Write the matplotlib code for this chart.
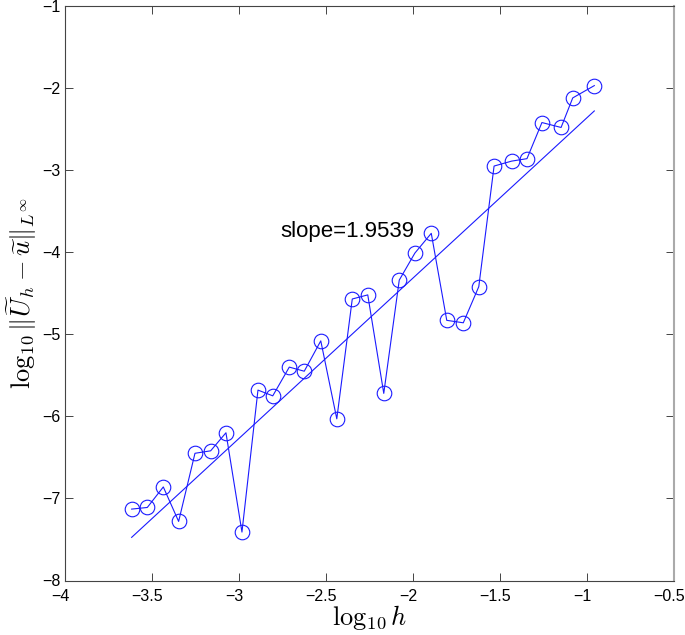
import matplotlib
matplotlib.use('Agg')
import matplotlib.pyplot as plt
import numpy as np
from matplotlib.ticker import FuncFormatter
from matplotlib.transforms import ScaledTranslation

# log10 h and log10 error
log_h = [-3.617, -3.527, -3.435, -3.347, -3.253, -3.163, -3.075, -2.983, -2.891, -2.806,
         -2.711, -2.625, -2.530, -2.438, -2.349, -2.260, -2.168, -2.079, -1.989, -1.895,
         -1.806, -1.711, -1.622, -1.534, -1.433, -1.345, -1.259, -1.149, -1.082, -0.958]
log_err = [-7.13, -7.11, -6.86, -7.28, -6.45, -6.42, -6.20, -7.41, -5.68, -5.75,
           -5.40, -5.45, -5.08, -6.03, -4.57, -4.52, -5.72, -4.34, -4.01, -3.77,
           -4.83, -4.86, -4.42, -2.95, -2.89, -2.86, -2.42, -2.48, -2.12, -1.97]

# least squares line
slope = 1.9539
intercept = -0.407

xticks = [-4, -3.5, -3, -2.5, -2, -1.5, -1, -0.5]
yticks = [-8, -7, -6, -5, -4, -3, -2, -1]

plt.rcParams['font.family'] = ['Liberation Sans', 'DejaVu Sans']
plt.rcParams['mathtext.fontset'] = 'cm'

fig = plt.figure(figsize=(6.85, 6.35), dpi=100)
ax = fig.add_axes([65 / 685, 1 - 580.5 / 635, 609 / 685, 574.5 / 635])

ax.plot(log_h, log_err, '-o', color='#1a1aff', lw=0.8, markersize=10.5,
        markerfacecolor='none', markeredgecolor='#1a1aff', markeredgewidth=0.8)

fit_x = np.array([log_h[0], log_h[-1]])
ax.plot(fit_x, slope * fit_x + intercept, color='#1a1aff', lw=0.8)

ax.text(-2.764, -3.81, 'slope=%.4f' % slope, fontsize=16, va='baseline', ha='left')

ax.set_xlim(-4, -0.5)
ax.set_ylim(-8, -1)
ax.set_xticks(xticks)
ax.set_yticks(yticks)
fmt = FuncFormatter(lambda v, p: ('%g' % v).replace('-', '\u2212'))
ax.xaxis.set_major_formatter(fmt)
ax.yaxis.set_major_formatter(fmt)
ax.tick_params(direction='in', length=5.5, width=0.7, color='#444444',
               top=True, right=True, labelsize=11.5)
ax.tick_params(axis='x', pad=6)
ax.tick_params(axis='y', pad=3)
# matlab puts the x labels a little left of the ticks
shift = ScaledTranslation(-5 / 100, 0, fig.dpi_scale_trans)
for lab in ax.get_xticklabels():
    lab.set_transform(lab.get_transform() + shift)
for s in ['left', 'bottom', 'top']:
    ax.spines[s].set_color('#444444')
    ax.spines[s].set_linewidth(0.8)
ax.spines['right'].set_color('#aaaaaa')
ax.spines['right'].set_linewidth(1.5)

ax.set_xlabel(r'$\log_{10} h$', fontsize=19, va='top')
ax.xaxis.set_label_coords(0.5, -0.040)
ax.set_ylabel(r'$\log_{10} \|\widetilde{U}_h - \widetilde{u}\|_{L^\infty}$', fontsize=19)
ax.yaxis.set_label_coords(-0.043, 0.5)

fig.savefig('out.png', dpi=100)
